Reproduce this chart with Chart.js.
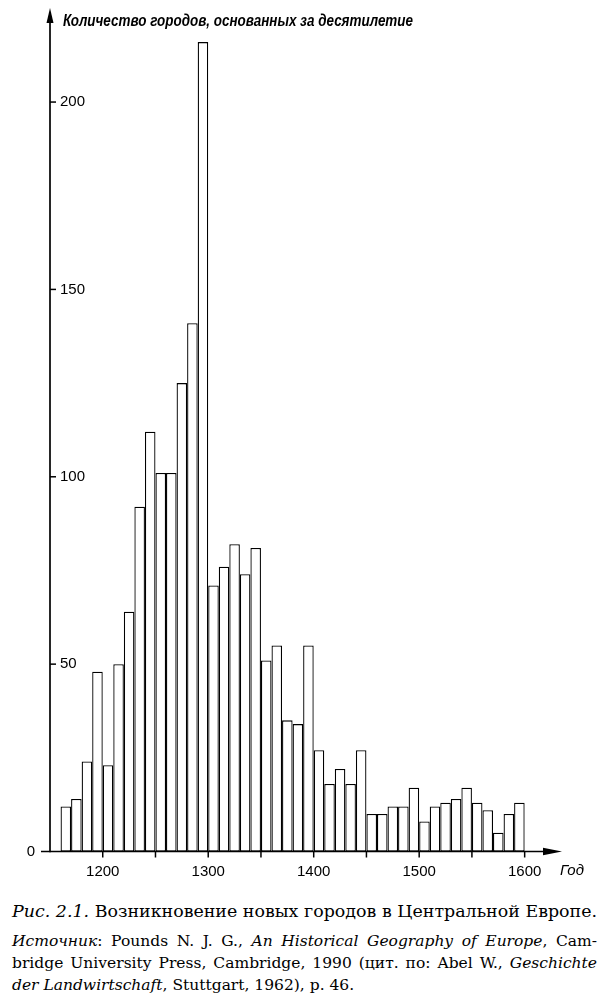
<!DOCTYPE html>
<html><head><meta charset="utf-8">
<script src="https://cdn.jsdelivr.net/npm/chart.js@4/dist/chart.umd.min.js"></script>
<style>
html,body{margin:0;padding:0;background:#fff;}
#wrap{position:relative;width:600px;height:997px;overflow:hidden;background:#fff;}
#chartBox{position:absolute;left:0;top:0;width:600px;height:890px;}
.cap{position:absolute;left:12px;white-space:nowrap;font-family:"DejaVu Serif","Liberation Serif",serif;color:#000;line-height:20px;}
</style></head>
<body><div id="wrap">
<div id="chartBox"><canvas id="c" width="600" height="890"></canvas></div>
<div class="cap" id="l1" style="top:901px;font-size:17.5px;"><i>Рис. 2.1.</i> Возникновение новых городов в Центральной Европе.</div>
<div class="cap" id="l2" style="top:930.5px;font-size:15.5px;"><i>Источник</i>: Pounds N. J. G., <i>An Historical Geography of Europe</i>, Cam-</div>
<div class="cap" id="l3" style="top:953px;font-size:15.5px;">bridge University Press, Cambridge, 1990 (цит. по: Abel W., <i>Geschichte</i></div>
<div class="cap" id="l4" style="top:974.5px;font-size:15.5px;"><i>der Landwirtschaft</i>, Stuttgart, 1962), p. 46.</div>
</div>
<script>
// Decade start years (categories)
const decades = [1160,1170,1180,1190,1200,1210,1220,1230,1240,1250,
                 1260,1270,1280,1290,1300,1310,1320,1330,1340,1350,
                 1360,1370,1380,1390,1400,1410,1420,1430,1440,1450,
                 1460,1470,1480,1490,1500,1510,1520,1530,1540,1550,
                 1560,1570,1580,1590];
// Number of towns founded per decade
const towns = [12,14,24,48,23,50,64,92,112,101,
               101,125,141,216,71,76,82,74,81,51,
               55,35,34,55,27,18,22,18,27,10,
               10,12,12,17,8,12,13,14,17,13,
               11,5,10,13];
const xTickLabels = [1200,1300,1400,1500,1600];
const xTickMarks = [1200,1250,1300,1350,1400,1450,1500,1550,1600];
const yTickLabels = [50,100,150,200];
const yAxisTitle = 'Количество городов, основанных за десятилетие';
const xAxisTitle = 'Год';

const sansFont = '"Liberation Sans Narrow","Liberation Sans",Arial,sans-serif';

const axesPlugin = {
  id: 'axesPlugin',
  afterDraw(chart) {
    const {ctx, chartArea: a, scales: {x, y}} = chart;
    const x0 = a.left, y0 = y.getPixelForValue(0);
    ctx.save();
    ctx.strokeStyle = '#000'; ctx.fillStyle = '#000'; ctx.lineWidth = 1.7;
    // y axis
    ctx.beginPath(); ctx.moveTo(x0, y0 + 0.8); ctx.lineTo(x0, a.top + 10); ctx.stroke();
    ctx.beginPath(); ctx.moveTo(x0, a.top); ctx.lineTo(x0 - 3.5, a.top + 15); ctx.lineTo(x0 + 3.5, a.top + 15); ctx.closePath(); ctx.fill();
    // x axis
    ctx.beginPath(); ctx.moveTo(x0 - 9, y0); ctx.lineTo(a.right - 10, y0); ctx.stroke();
    ctx.beginPath(); ctx.moveTo(a.right, y0); ctx.lineTo(a.right - 19, y0 - 3.8); ctx.lineTo(a.right - 19, y0 + 3.8); ctx.closePath(); ctx.fill();
    // tick marks
    ctx.lineWidth = 1.5;
    yTickLabels.forEach(v => { const py = y.getPixelForValue(v); ctx.beginPath(); ctx.moveTo(x0, py); ctx.lineTo(x0 + 6, py); ctx.stroke(); });
    xTickMarks.forEach(v => { const px = x.getPixelForValue(v); ctx.beginPath(); ctx.moveTo(px, y0); ctx.lineTo(px, y0 + 6); ctx.stroke(); });
    // zero label
    ctx.font = '15px ' + sansFont; ctx.textAlign = 'right'; ctx.textBaseline = 'middle';
    ctx.fillText('0', x0 - 15, y0);
    // x axis title
    ctx.font = 'italic 15px ' + sansFont; ctx.textAlign = 'left'; ctx.textBaseline = 'top';
    ctx.fillText(xAxisTitle, a.right - 2, y0 + 12);
    // y axis title
    ctx.font = 'italic bold 16px ' + sansFont; ctx.textAlign = 'left'; ctx.textBaseline = 'alphabetic';
    const w = ctx.measureText(yAxisTitle).width;
    const target = 350;
    ctx.translate(x0 + 13, 25.5);
    ctx.scale(target / w, 1);
    ctx.fillText(yAxisTitle, 0, 0);
    ctx.restore();
  }
};

new Chart(document.getElementById('c'), {
  type: 'bar',
  data: {
    datasets: [{
      data: decades.map((d, i) => ({x: d + 5, y: towns[i]})),
      backgroundColor: '#ffffff',
      borderColor: '#000000',
      borderWidth: 1.3,
      borderSkipped: false,
      barPercentage: 1,
      categoryPercentage: 1,
      inflateAmount: 0
    }]
  },
  options: {
    responsive: false,
    animation: false,
    devicePixelRatio: 1,
    layout: {padding: {left: 50, top: 8, right: 38, bottom: 0}},
    plugins: {legend: {display: false}, tooltip: {enabled: false}, title: {display: false}},
    scales: {
      x: {
        type: 'linear', min: 1150, max: 1635.4, offset: false,
        grid: {display: false, drawTicks: false, offset: false}, border: {display: false},
        afterBuildTicks: s => { s.ticks = xTickLabels.map(v => ({value: v})); },
        afterFit: s => { s.height = 38.5; s.paddingLeft = 0; s.paddingRight = 0; },
        ticks: {color: '#000', padding: 11, maxRotation: 0, autoSkip: false,
                font: {family: sansFont, size: 15}, callback: v => String(v)}
      },
      y: {
        type: 'linear', min: 0, max: 225.1,
        grid: {display: false, drawTicks: false}, border: {display: false},
        afterBuildTicks: s => { s.ticks = yTickLabels.map(v => ({value: v})); },
        afterFit: s => { s.width = 0; s.paddingTop = 0; s.paddingBottom = 0; },
        ticks: {color: '#000', mirror: true, padding: 10,
                font: {family: sansFont, size: 15}, callback: v => String(v)}
      }
    }
  },
  plugins: [axesPlugin]
});

function fitLine(id, target, justify) {
  const el = document.getElementById(id);
  let w = el.getBoundingClientRect().width;
  if (w > target) {
    const fs = parseFloat(getComputedStyle(el).fontSize);
    el.style.fontSize = (fs * target / w) + 'px';
    w = el.getBoundingClientRect().width;
  }
  if (justify) {
    const spaces = (el.textContent.match(/ /g) || []).length;
    if (spaces) el.style.wordSpacing = ((target - w) / spaces) + 'px';
  }
}
fitLine('l1', 585, true);
fitLine('l2', 585, true);
fitLine('l3', 585, true);
fitLine('l4', 585, false);
</script>
</body></html>
